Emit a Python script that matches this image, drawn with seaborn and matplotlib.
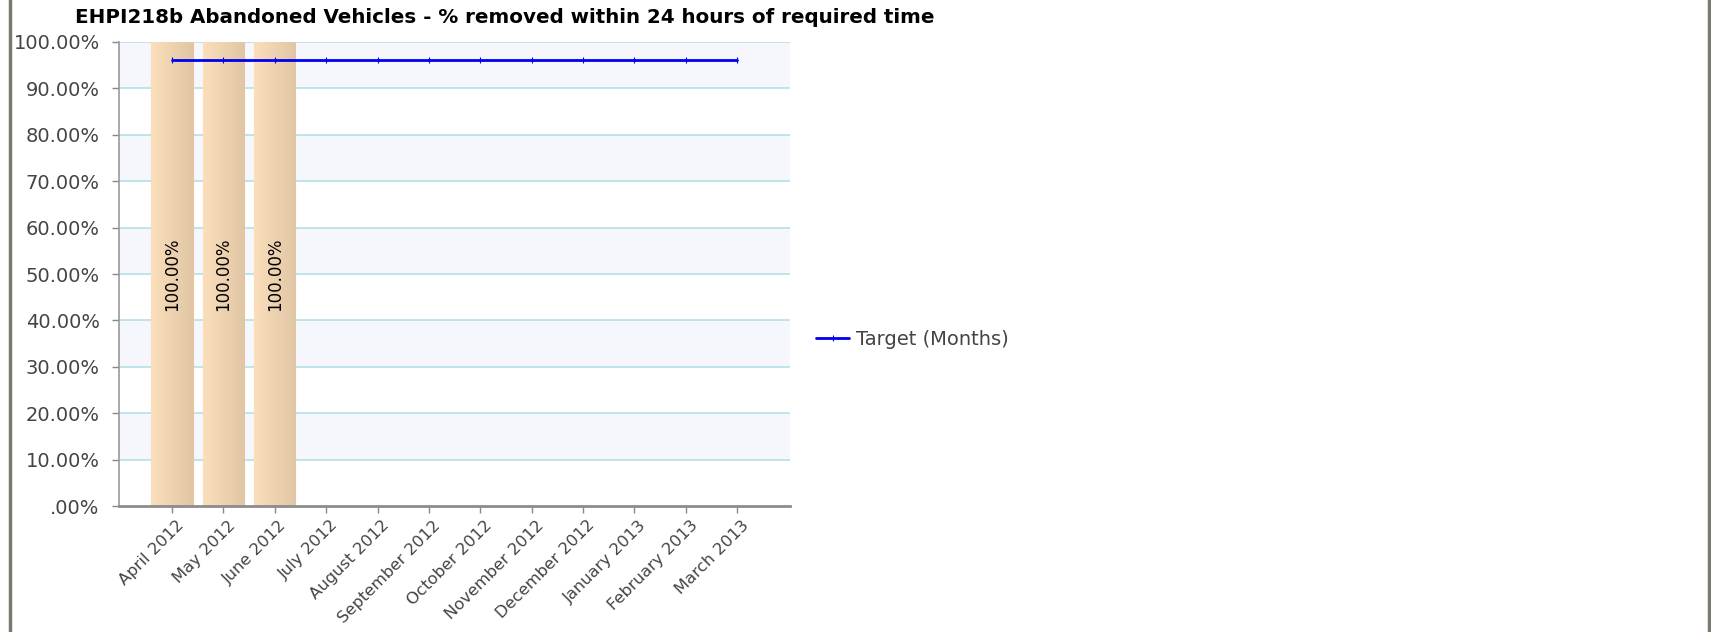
import numpy as np
import pandas as pd
import matplotlib
matplotlib.use("Agg")
import matplotlib.pyplot as plt
from matplotlib.ticker import FuncFormatter, MultipleLocator
from matplotlib.colors import LinearSegmentedColormap
from matplotlib.transforms import ScaledTranslation
import seaborn as sns

# Datos del gráfico
meses = ["April 2012", "May 2012", "June 2012", "July 2012", "August 2012",
         "September 2012", "October 2012", "November 2012", "December 2012",
         "January 2013", "February 2013", "March 2013"]
porcentaje = [100.0, 100.0, 100.0, np.nan, np.nan, np.nan,
              np.nan, np.nan, np.nan, np.nan, np.nan, np.nan]
objetivo = [96.0] * 12
titulo = "EHPI218b Abandoned Vehicles - % removed within 24 hours of required time"
leyenda = "Target (Months)"

df = pd.DataFrame({"mes": meses, "valor": porcentaje, "objetivo": objetivo})

sns.set_style("white")
plt.rcParams["font.family"] = ["DejaVu Sans"]

fig = plt.figure(figsize=(17.11, 6.32), dpi=100)
fig.patch.set_facecolor("white")
ax = fig.add_axes([0.0696, 0.1986, 0.3922, 0.7357])
ax.set_facecolor("white")

# Bandas alternas y rejilla
for inf in range(10, 100, 20):
    ax.axhspan(inf, inf + 10, color="#f6f7fd", zorder=0, lw=0)
for v in range(10, 101, 10):
    ax.axhline(v, color="#b5e0e8", lw=1.2, zorder=1)

sns.barplot(data=df, x="mes", y="valor", order=meses, color="#f5d9b4",
            width=0.8, edgecolor="#e5c49c", linewidth=0.8, ax=ax, zorder=2)
barras = ax.containers[0]

# Degradado horizontal en las barras
cmap_barra = LinearSegmentedColormap.from_list("barra", ["#fbdfbb", "#e1c6a5"])
grad = np.linspace(0, 1, 64).reshape(1, -1)
for p in barras:
    h = p.get_height()
    if np.isnan(h) or h == 0:
        continue
    x0, y0 = p.get_x(), p.get_y()
    im = ax.imshow(grad, cmap=cmap_barra, aspect="auto",
                   extent=(x0, x0 + p.get_width(), y0, y0 + h), zorder=2.5)
    im.set_clip_path(p)

etiquetas = [f"{p.get_height():.2f}%" for p in barras]
ax.bar_label(barras, labels=etiquetas, label_type="center", rotation=90,
             fontsize=12, color="black", zorder=4)

sns.lineplot(data=df, x="mes", y="objetivo", sort=False, color="#0000f0", lw=2,
             marker="|", markersize=4, markeredgewidth=0.8,
             markeredgecolor="#0000f0", ax=ax, zorder=5,
             label=leyenda, legend=False)

ax.set_xlim(-1.03, 12.03)
ax.set_ylim(0, 100)
ax.yaxis.set_major_locator(MultipleLocator(10))
ax.yaxis.set_major_formatter(FuncFormatter(
    lambda v, pos: ".00%" if v == 0 else f"{v:.2f}%"))

ax.set_xlabel("")
ax.set_ylabel("")
for lado in ["top", "right"]:
    ax.spines[lado].set_visible(False)
ax.spines["left"].set_color("#999999")
ax.spines["left"].set_linewidth(1.2)
ax.spines["bottom"].set_color("#8c8c8c")
ax.spines["bottom"].set_linewidth(2)
ax.tick_params(axis="both", which="major", direction="out", length=5, width=1,
               color="#888888", labelcolor="#444444", bottom=True, left=True)
ax.tick_params(axis="y", labelsize=14, pad=9)
ax.tick_params(axis="x", labelsize=11.8, pad=3)
desplaz = ScaledTranslation(4 / 100, 0, fig.dpi_scale_trans)
for t in ax.get_xticklabels():
    t.set_rotation(45)
    t.set_ha("right")
    t.set_rotation_mode("anchor")
    t.set_transform(t.get_transform() + desplaz)

# Leyenda
ax.legend(loc="center left", bbox_to_anchor=(1.039, 0.360), frameon=False,
          borderaxespad=0, borderpad=0, fontsize=14, handlelength=1.7,
          handletextpad=0.35, labelcolor="#444444")

fig.text(75 / 1711, 1 - 8 / 632, titulo, ha="left", va="top",
         fontsize=14.35, fontweight="bold", color="black")

# Marco lateral
fig.add_artist(plt.Line2D([10 / 1711, 10 / 1711], [0, 1], color="#7a7a6e", lw=2.5))
fig.add_artist(plt.Line2D([1709 / 1711, 1709 / 1711], [0, 1], color="#7a7a6e", lw=2.5))

fig.savefig("out.png", dpi=100)
